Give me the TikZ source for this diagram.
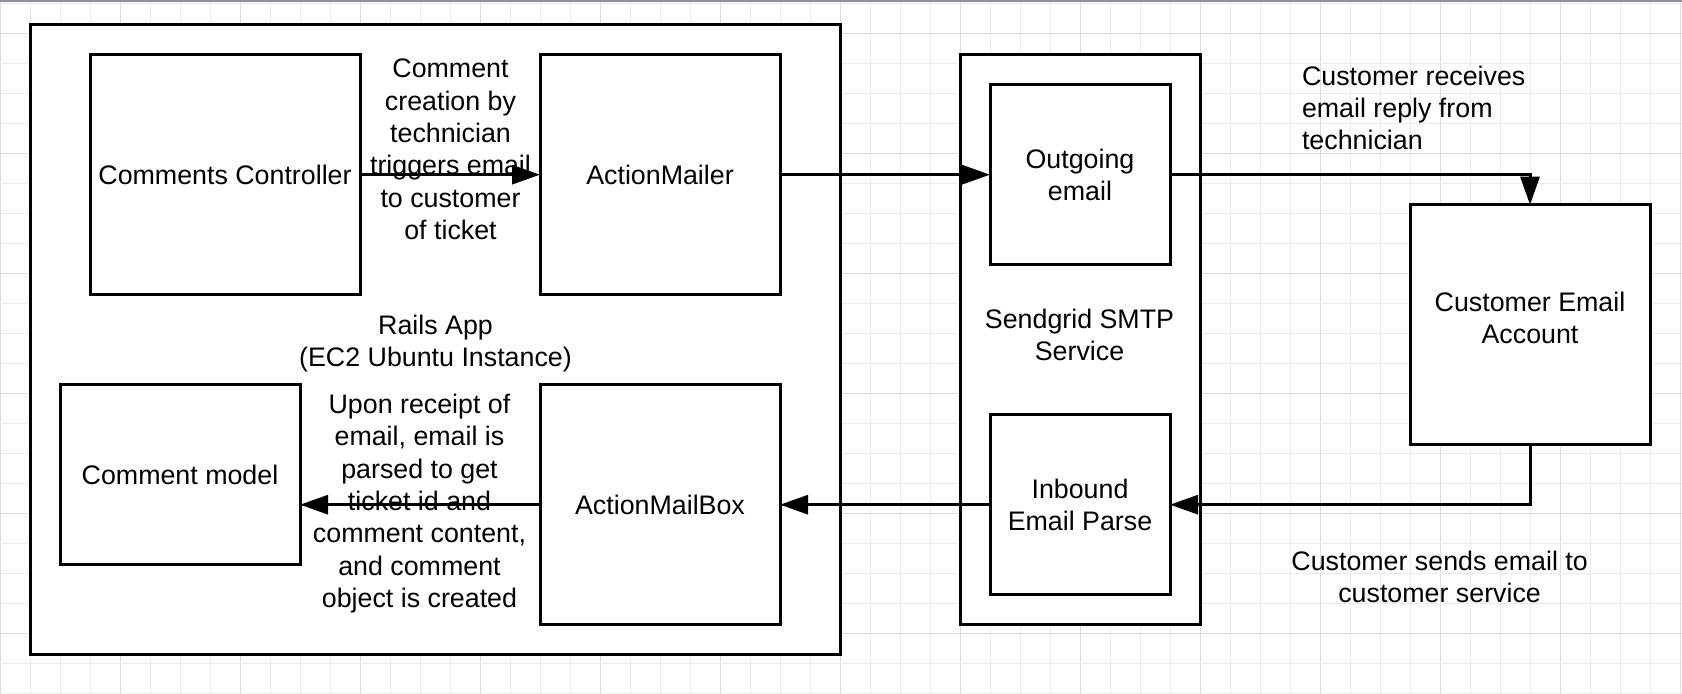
\documentclass[tikz,border=0pt]{standalone}
\usepackage{fontspec}
\setmainfont{Liberation Sans}
\usetikzlibrary{arrows.meta}
\definecolor{gridc}{HTML}{EBEBEB}
\definecolor{gridd}{HTML}{DCDCDC}
\definecolor{topc}{HTML}{8C9199}
\tikzset{
  box/.style={draw=black, line width=1.5pt, fill=white, inner sep=0pt, outer sep=0pt, align=center},
  lbl/.style={inner sep=0pt, outer sep=0pt, align=center},
  conn/.style={draw=black, line width=1.5pt, -{Triangle[length=14pt, width=9.5pt]}},
  plain/.style={draw=black, line width=1.5pt}
}
\begin{document}
\begin{tikzpicture}[x=0.5pt, y=-0.5pt, font=\fontsize{13.4}{16.2}\selectfont]
\useasboundingbox (0,0) rectangle (1682,694);
% background grid
\fill[white] (0,0) rectangle (1682,694);
\foreach \k in {0,...,56} {
  \pgfmathtruncatemacro{\m}{mod(\k,4)}
  \ifnum\m=0 \draw[gridd, line width=0.5pt] ({0.7+30*\k},0) -- ({0.7+30*\k},694);
  \else \draw[gridc, line width=0.5pt] ({0.7+30*\k},0) -- ({0.7+30*\k},694); \fi
}
\foreach \k in {0,...,23} {
  \pgfmathtruncatemacro{\m}{mod(\k+3,4)}
  \ifnum\m=0 \draw[gridd, line width=0.5pt] (0,{3.3+30*\k}) -- (1682,{3.3+30*\k});
  \else \draw[gridc, line width=0.5pt] (0,{3.3+30*\k}) -- (1682,{3.3+30*\k}); \fi
}
\fill[topc] (0,0) rectangle (1682,1.6);

% containers
\node[box, minimum width=405pt, minimum height=315pt] (rails) at (435,339.7) {};
\node[box, minimum width=120pt, minimum height=285pt] (sg) at (1080,339.7) {};

% boxes
\node[box, minimum width=135pt, minimum height=120pt] (cc) at (225,174.7) {Comments Controller};
\node[box, minimum width=120pt, minimum height=120pt] (am) at (660,174.7) {ActionMailer};
\node[box, minimum width=120pt, minimum height=90pt] (cm) at (180,474.7) {Comment model};
\node[box, minimum width=120pt, minimum height=120pt] (amb) at (660,504.7) {ActionMailBox};
\node[box, minimum width=90pt, minimum height=90pt] (oe) at (1080,174.7) {Outgoing\\email};
\node[box, minimum width=90pt, minimum height=90pt] (iep) at (1080,504.7) {Inbound\\Email Parse};
\node[box, minimum width=120pt, minimum height=120pt] (cea) at (1530,324.7) {};
\node[lbl] (cealbl) at (1530,318) {Customer Email\\Account};

% container labels
\node[lbl] (railslbl) at (435.5,343.5) {Rails App\\(EC2 Ubuntu Instance)};
\node[lbl] (sglbl) at (1079.5,334.7) {Sendgrid SMTP\\Service};

% connectors
\draw[conn] (cc.east) -- (am.west);
\draw[conn] (am.east) -- (oe.west);
\draw[conn] (oe.east) -| (cea.north);
\draw[conn] (cea.south) |- (iep.east);
\draw[conn] (iep.west) -- (amb.east);
\draw[conn] (amb.west) -- (amb.west -| cm.east);

% connector labels
\node[lbl] (l1) at (450.5,149.5) {Comment\\creation by\\technician\\triggers email\\to customer\\of ticket};
\node[lbl] (l2) at (419.5,503.5) {Upon receipt of\\email, email is\\parsed to get\\ticket id and\\comment content,\\and comment\\object is created};
\node[lbl, align=left, anchor=west] (l3) at (1302,108) {Customer receives\\email reply from\\technician};
\node[lbl] (l4) at (1439.6,577) {Customer sends email to\\customer service};
\end{tikzpicture}
\end{document}
